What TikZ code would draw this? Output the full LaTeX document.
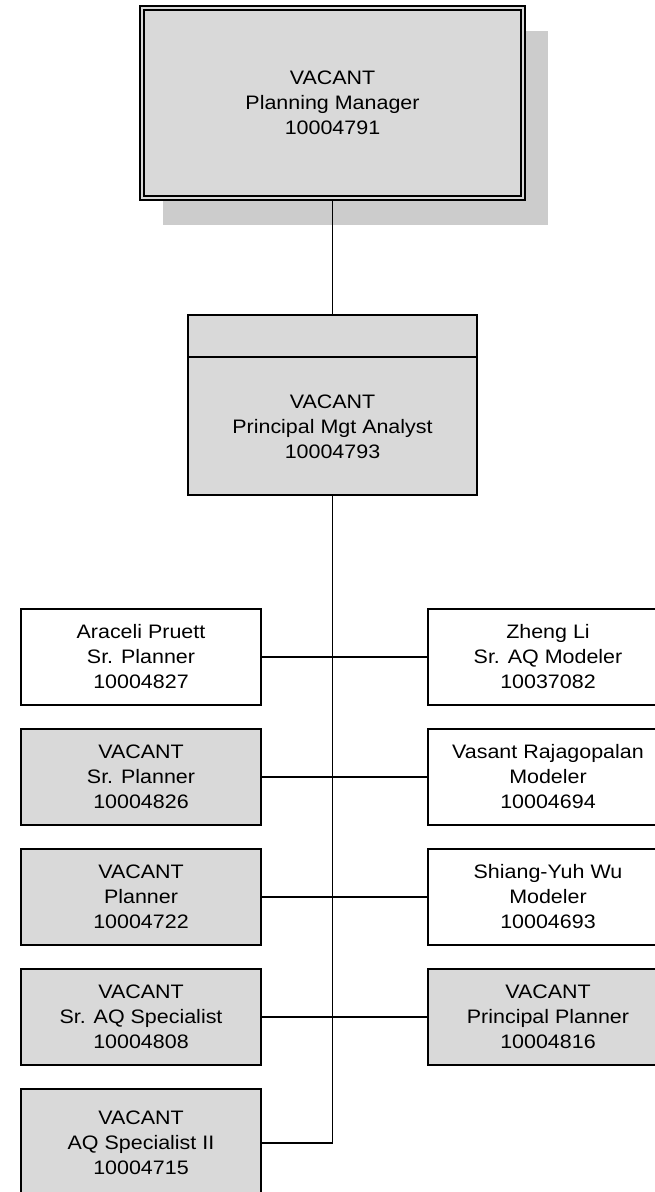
\documentclass[tikz,border=0pt]{standalone}
\usepackage{fontspec}
\setmainfont[FakeStretch=1.1]{Liberation Sans}
\usetikzlibrary{shadows}
\definecolor{boxgray}{RGB}{217,217,217}
\definecolor{shadowgray}{RGB}{204,204,204}
\tikzset{
  orgbox/.style={draw=black, line width=1.8pt, minimum width=240pt, minimum height=96pt,
    align=center, inner sep=0pt, font=\fontsize{19.5}{25}\selectfont},
  vacantbox/.style={orgbox, fill=boxgray},
  filledbox/.style={orgbox, fill=white},
  link/.style={draw=black, line width=1.9pt},
}
\begin{document}
\begin{tikzpicture}[x=1pt,y=-1pt]
\useasboundingbox (0,0) rectangle (654,1192);
% top box
\node[vacantbox, minimum width=385pt, minimum height=194pt, line width=2pt,
      drop shadow={shadow xshift=23pt, shadow yshift=-25pt, opacity=1, fill=shadowgray}]
      (pm) at (332.5,103) {VACANT\\Planning Manager\\10004791};
\draw[line width=1.5pt] ([shift={(5pt,-5pt)}]pm.north west) rectangle ([shift={(-5pt,5pt)}]pm.south east);
% second box
\node[vacantbox, minimum width=289pt, minimum height=180pt] (mgr) at (332.5,405) {};
\draw[link] (mgr.west |- 0,357) -- (mgr.east |- 0,357);
\node[align=center, font=\fontsize{19.5}{25}\selectfont, inner sep=0pt] (mgrtxt) at (332.5,427)
  {VACANT\\Principal Mgt Analyst\\10004793};
\draw[link] (pm.south) -- (mgr.north);
% left column
\node[filledbox] (l1) at (141,657) {Araceli Pruett\\Sr. Planner\\10004827};
\node[vacantbox] (l2) at (141,777) {VACANT\\Sr. Planner\\10004826};
\node[vacantbox] (l3) at (141,897) {VACANT\\Planner\\10004722};
\node[vacantbox] (l4) at (141,1017) {VACANT\\Sr. AQ Specialist\\10004808};
\node[vacantbox, minimum height=108pt] (l5) at (141,1143) {VACANT\\AQ Specialist II\\10004715};
% right column
\node[filledbox] (r1) at (548,657) {Zheng Li\\Sr. AQ Modeler\\10037082};
\node[filledbox] (r2) at (548,777) {Vasant Rajagopalan\\Modeler\\10004694};
\node[filledbox] (r3) at (548,897) {Shiang-Yuh Wu\\Modeler\\10004693};
\node[vacantbox] (r4) at (548,1017) {VACANT\\Principal Planner\\10004816};
% connectors
\draw[link] (mgr.south) |- (l5.east);
\foreach \n in {l1,l2,l3,l4}{\draw[link] (\n.east) -- (\n.east -| mgr.south);}
\foreach \n in {r1,r2,r3,r4}{\draw[link] (\n.west) -- (\n.west -| mgr.south);}
\end{tikzpicture}
\end{document}
